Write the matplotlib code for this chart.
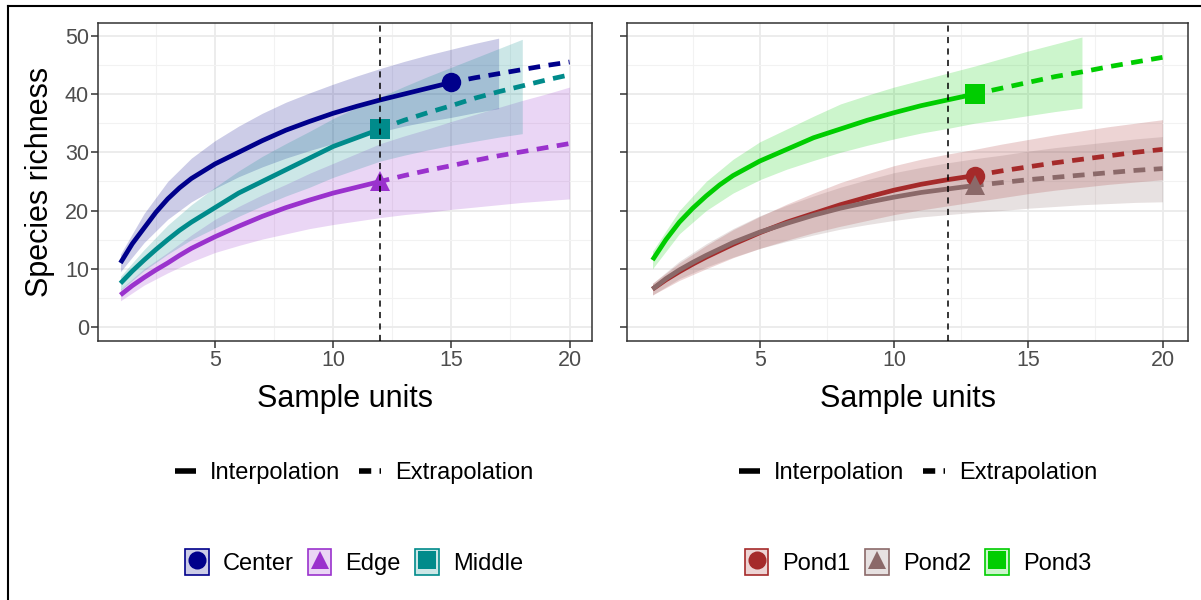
import matplotlib
matplotlib.use("Agg")
import matplotlib.pyplot as plt
from matplotlib.lines import Line2D
from matplotlib.patches import Patch
from matplotlib.ticker import MultipleLocator

plt.rcParams['font.family'] = ['Liberation Sans', 'DejaVu Sans']

# ─── Datos ────────────────────────────────────────────────────────────────────

# Panel izquierdo
center_x = [1, 1.5, 2, 2.5, 3, 3.5, 4, 5, 6, 7, 8, 9, 10, 11, 12, 13, 14, 15]
center_y = [11, 14.3, 17, 19.7, 22, 23.9, 25.5, 28, 30, 32, 33.8, 35.3, 36.7, 37.9, 39, 40, 41, 42]
center_ext_x = [15, 16, 17, 18, 19, 20]
center_ext_y = [42, 42.8, 43.5, 44.2, 44.9, 45.5]
center_rib_x = list(range(1, 18))
center_lo = [9.5, 14.5, 18.5, 21.5, 23.8, 25.8, 27.5, 29, 30.3, 31.5, 32.5, 33.5, 34.5, 35.3, 36, 36.8, 37.5]
center_hi = [12.5, 19.5, 25, 29, 32, 34.5, 36.7, 38.6, 40.2, 41.7, 43.1, 44.4, 45.6, 46.7, 47.7, 48.7, 49.6]

edge_x = [1, 1.5, 2, 2.5, 3, 3.5, 4, 5, 6, 7, 8, 9, 10, 11, 12]
edge_y = [5.5, 7.1, 8.5, 9.8, 11, 12.3, 13.5, 15.5, 17.3, 19, 20.5, 21.8, 23, 24, 25]
edge_ext_x = [12, 13, 14, 15, 16, 17, 18, 19, 20]
edge_ext_y = [25, 26, 26.9, 27.7, 28.6, 29.4, 30.1, 30.8, 31.5]
edge_rib_x = list(range(1, 21))
edge_lo = [4.5, 7.2, 9.3, 11.2, 12.8, 14, 15.1, 16, 16.9, 17.6, 18.2, 18.8, 19.3, 19.7, 20.2, 20.6, 21, 21.4, 21.7, 22]
edge_hi = [6.5, 10, 12.8, 15.8, 18.5, 20.7, 22.7, 24.5, 26.4, 28.1, 29.8, 31.5, 32.8, 34, 35.3, 36.5, 37.7, 38.9, 40, 41.2]

middle_x = [1, 1.5, 2, 2.5, 3, 3.5, 4, 5, 6, 7, 8, 9, 10, 11, 12]
middle_y = [7.5, 9.6, 11.5, 13.3, 15, 16.6, 18, 20.5, 23, 25, 27, 29, 31, 32.5, 34]
middle_ext_x = [12, 13, 14, 15, 16, 17, 18, 19, 20]
middle_ext_y = [34, 35.5, 36.8, 38, 39.3, 40.4, 41.4, 42.4, 43.3]
middle_rib_x = list(range(1, 19))
middle_lo = [6.3, 9.7, 12.5, 15, 17, 19, 20.8, 22.5, 24, 25.7, 27.1, 28.5, 29.5, 30.4, 31.2, 31.9, 32.6, 33.2]
middle_hi = [8.7, 13.3, 17.5, 21, 24, 26.8, 29.3, 31.5, 33.6, 35.8, 37.7, 39.5, 41.3, 43, 44.6, 46.2, 47.8, 49.4]

# Panel derecho
pond1_x = [1, 1.5, 2, 2.5, 3, 3.5, 4, 5, 6, 7, 8, 9, 10, 11, 12, 13]
pond1_y = [6.5, 8.1, 9.5, 10.8, 12, 13.1, 14.2, 16.2, 18, 19.5, 21, 22.3, 23.5, 24.5, 25.3, 26]
pond1_ext_x = [13, 14, 15, 16, 17, 18, 19, 20]
pond1_ext_y = [26, 26.8, 27.5, 28.2, 28.8, 29.4, 30, 30.5]
pond1_rib_x = list(range(1, 21))
pond1_lo = [5.5, 8, 10, 11.9, 13.5, 14.9, 16.2, 17.3, 18.3, 19.3, 20.1, 20.8, 21.5, 22.2, 22.9, 23.5, 24, 24.5, 24.9, 25.3]
pond1_hi = [7.5, 11, 14, 16.7, 19, 21.1, 23, 24.8, 26.3, 27.7, 28.8, 29.7, 30.5, 31.4, 32.2, 33, 33.7, 34.4, 35, 35.6]

pond2_x = [1, 1.5, 2, 2.5, 3, 3.5, 4, 5, 6, 7, 8, 9, 10, 11, 12, 13]
pond2_y = [6.5, 8.3, 9.8, 11.1, 12.3, 13.4, 14.5, 16.3, 17.8, 19.2, 20.4, 21.4, 22.3, 23.1, 23.7, 24.3]
pond2_ext_x = [13, 14, 15, 16, 17, 18, 19, 20]
pond2_ext_y = [24.3, 24.8, 25.3, 25.7, 26.1, 26.5, 26.9, 27.2]
pond2_rib_x = list(range(1, 21))
pond2_lo = [5.5, 8.3, 10.3, 12, 13.5, 14.7, 15.8, 16.8, 17.6, 18.3, 18.9, 19.3, 19.7, 20, 20.4, 20.7, 21, 21.2, 21.4, 21.5]
pond2_hi = [7.5, 11.3, 14.3, 16.9, 19.1, 20.9, 22.5, 24, 25.3, 26.5, 27.4, 28.2, 28.9, 29.5, 30.2, 30.8, 31.3, 31.8, 32.3, 32.7]

pond3_x = [1, 1.5, 2, 2.5, 3, 3.5, 4, 5, 6, 7, 8, 9, 10, 11, 12, 13]
pond3_y = [11.5, 15, 18, 20.4, 22.5, 24.4, 26, 28.5, 30.5, 32.5, 34, 35.5, 36.8, 38, 39, 40]
pond3_ext_x = [13, 14, 15, 16, 17, 18, 19, 20]
pond3_ext_y = [40, 41, 42, 43, 43.8, 44.7, 45.5, 46.3]
pond3_rib_x = list(range(1, 18))
pond3_lo = [10, 16, 20, 23, 25.3, 27.1, 28.6, 30, 31.2, 32.3, 33.3, 34.1, 35, 35.6, 36.3, 37, 37.6]
pond3_hi = [13, 20, 25, 28.8, 31.8, 34, 36.2, 38.3, 39.8, 41.2, 42.4, 43.6, 44.8, 46.1, 47.4, 48.6, 49.8]

izquierda = [
    ("Center", "#00008B", "o", center_x, center_y, center_ext_x, center_ext_y, center_rib_x, center_lo, center_hi),
    ("Edge", "#9A32CD", "^", edge_x, edge_y, edge_ext_x, edge_ext_y, edge_rib_x, edge_lo, edge_hi),
    ("Middle", "#008B8B", "s", middle_x, middle_y, middle_ext_x, middle_ext_y, middle_rib_x, middle_lo, middle_hi),
]
derecha = [
    ("Pond1", "#A52A2A", "o", pond1_x, pond1_y, pond1_ext_x, pond1_ext_y, pond1_rib_x, pond1_lo, pond1_hi),
    ("Pond2", "#8B6969", "^", pond2_x, pond2_y, pond2_ext_x, pond2_ext_y, pond2_rib_x, pond2_lo, pond2_hi),
    ("Pond3", "#00CD00", "s", pond3_x, pond3_y, pond3_ext_x, pond3_ext_y, pond3_rib_x, pond3_lo, pond3_hi),
]

# ─── Graficar ─────────────────────────────────────────────────────────────────

W, H = 1201, 600
fig = plt.figure(figsize=(W / 100, H / 100), dpi=100)

# marco de la figura (solo arriba e izquierda)
fig.add_artist(Line2D([8 / W, 8 / W], [0, 1 - 6 / H], transform=fig.transFigure, color='black', lw=1.5))
fig.add_artist(Line2D([8 / W, 1], [1 - 6 / H, 1 - 6 / H], transform=fig.transFigure, color='black', lw=1.5))

ax1 = fig.add_axes([98 / W, 259 / H, 494 / W, 318 / H])
ax2 = fig.add_axes([627 / W, 259 / H, 561 / W, 318 / H])

lw = 3.4
ext_style = (0.6, (2.5, 1.8))


def dibujar(ax, grupos):
    ax.set_xlim(0.05, 20.95)
    ax.set_ylim(-2.4, 52.2)
    ax.xaxis.set_major_locator(MultipleLocator(5))
    ax.xaxis.set_minor_locator(MultipleLocator(2.5))
    ax.yaxis.set_major_locator(MultipleLocator(10))
    ax.yaxis.set_minor_locator(MultipleLocator(5))
    ax.grid(True, which='major', color='#EBEBEB', lw=1.3, zorder=0)
    ax.grid(True, which='minor', color='#F2F2F2', lw=0.8, zorder=0)
    ax.set_axisbelow(True)
    ax.tick_params(which='major', length=5, width=1.1, color='#333333', labelsize=15.5,
                   labelcolor='#4D4D4D', pad=1.5)
    ax.tick_params(which='minor', length=0)
    for s in ax.spines.values():
        s.set_color('#333333')
        s.set_linewidth(1.1)

    for nombre, col, mk, xi, yi, xe, ye, xr, lo, hi in grupos:
        ax.fill_between(xr, lo, hi, color=col, alpha=0.2, lw=0, zorder=2)
    for nombre, col, mk, xi, yi, xe, ye, xr, lo, hi in grupos:
        ax.plot(xi, yi, color=col, lw=lw, solid_capstyle='butt', solid_joinstyle='round', zorder=3)
        ax.plot(xe, ye, color=col, lw=lw, linestyle=ext_style, dash_capstyle='butt', zorder=3)
        ax.plot(xi[-1], yi[-1], marker=mk, color=col, ms=14, mew=0, zorder=4)

    ax.axvline(12, color='black', lw=1.1, linestyle=(0, (4, 3.5)), zorder=5)
    ax.set_xlabel("Sample units", fontsize=22, labelpad=9)


dibujar(ax1, izquierda)
dibujar(ax2, derecha)
ax1.set_ylabel("Species richness", fontsize=22, labelpad=7)
ax2.tick_params(axis='y', labelleft=False)

# Leyendas
for centro, grupos in [(354, izquierda), (918, derecha)]:
    tipos = [Line2D([], [], color='black', lw=4, solid_capstyle='butt'),
             Line2D([], [], color='black', lw=4, linestyle=(0, (2.2, 1.5)), dash_capstyle='butt')]
    fig.legend(tipos, ["Interpolation", "Extrapolation"], loc='center',
               bbox_to_anchor=(centro / W, 1 - 473 / H), ncol=2, frameon=False,
               fontsize=17, handlelength=0.9, handletextpad=0.6, columnspacing=0.8)
    manijas = []
    etiquetas = []
    for nombre, col, mk, *_ in grupos:
        caja = Patch(facecolor=col, alpha=0.2, edgecolor='none')
        borde = Patch(facecolor='none', edgecolor=col, lw=1.2)
        marca = Line2D([], [], color=col, lw=0, marker=mk, ms=13, mew=0)
        manijas.append((caja, borde, marca))
        etiquetas.append(nombre)
    fig.legend(manijas, etiquetas, loc='center', bbox_to_anchor=(centro / W, 1 - 562 / H),
               ncol=3, frameon=False, fontsize=17, handlelength=1.0, handleheight=1.3,
               handletextpad=0.6, columnspacing=0.6)

fig.savefig("out.png", dpi=100)
